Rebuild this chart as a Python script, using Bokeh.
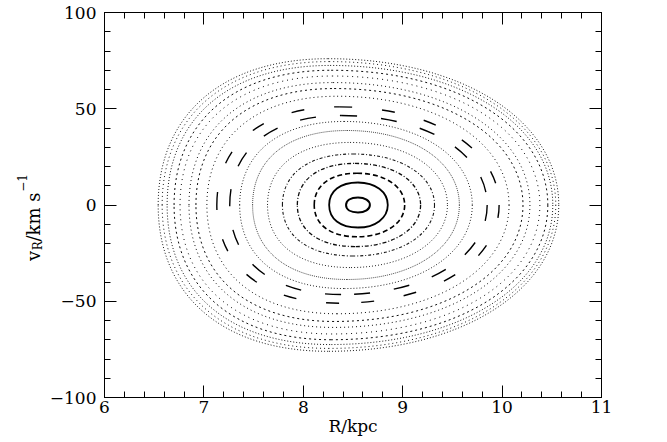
import math
from bokeh.plotting import figure
from bokeh.layouts import row
from bokeh.models import Range1d, LinearAxis, FixedTicker, ColumnDataSource
from bokeh.core.properties import value
from bokeh.embed import file_html
from bokeh.resources import INLINE

# Invariant curves of the surface of section:
# R where each curve crosses vR = 0 (left / right), and its highest point (R, vR).
r_left  = [8.43, 8.26, 8.11, 7.94, 7.79, 7.64, 7.49, 7.36, 7.26, 7.13, 7.03, 6.92, 6.85, 6.76, 6.70, 6.63, 6.58, 6.54]
r_right = [8.67, 8.85, 9.02, 9.18, 9.32, 9.45, 9.57, 9.70, 9.85, 9.97, 10.07, 10.21, 10.28, 10.38, 10.46, 10.51, 10.54, 10.57]
r_peak  = [8.55, 8.55, 8.54, 8.52, 8.50, 8.47, 8.44, 8.41, 8.38, 8.36, 8.34, 8.31, 8.30, 8.29, 8.28, 8.27, 8.26, 8.25]
v_peak  = [3.9, 11.7, 16.5, 21.6, 26.5, 32.5, 38.7, 43.4, 46.5, 51.0, 56.5, 60.5, 63.6, 67.0, 70.0, 72.5, 74.5, 76.0]
# line style of each curve
dashes = ["solid", "solid", "5 3", "4 2 1 2", "3 2 1 2", "1 2", "1 1", "1 2", "16 24", "13 30",
          "1 3", "2 3", "1 3", "1 4", "2 3", "1 2", "1 3", "1 2"]
widths = [2.0, 1.8, 1.6, 1.3, 1.1, 1.0, 1.0, 1.0, 1.4, 1.4, 1.0, 1.0, 1.0, 1.0, 1.0, 1.0, 1.0, 1.0]
alphas = [1.0, 1.0, 1.0, 0.95, 0.9, 0.85, 0.7, 0.85, 1.0, 1.0, 0.95, 0.95, 0.95, 0.95, 0.95, 0.9, 0.9, 0.9]

x_ticks = [6, 7, 8, 9, 10, 11]
y_ticks = [-100, -50, 0, 50, 100]
y_tick_text = {-100: "\u2212100", -50: "\u221250", 0: "0", 50: "50", 100: "100"}
x_minor = [6 + 0.2 * i for i in range(26)]
y_minor = [-100 + 10 * i for i in range(21)]

FONT = "DejaVu Serif"
K_LEFT, K_RIGHT = 0.62, 0.58
H = 440
LAB_W = 46

p = figure(frame_width=497, frame_height=385,
           min_border_left=102 - LAB_W, min_border_right=66, min_border_top=12, min_border_bottom=43,
           x_range=Range1d(6, 11), y_range=Range1d(-100, 100),
           output_backend="svg", toolbar_location=None)
p.title.visible = False
p.xgrid.visible = False
p.ygrid.visible = False
p.outline_line_color = "black"
p.background_fill_color = "white"
p.border_fill_color = "white"

for i in range(len(r_left)):
    rl, rr, rp, vp = r_left[i], r_right[i], r_peak[i], v_peak[i]
    src = ColumnDataSource(dict(
        x0=[rl, rp, rr, rp], y0=[0, vp, 0, -vp],
        x1=[rp, rr, rp, rl], y1=[vp, 0, -vp, 0],
        cx0=[rl, rp + K_RIGHT * (rr - rp), rr, rp - K_LEFT * (rp - rl)],
        cy0=[K_LEFT * vp, vp, -K_RIGHT * vp, -vp],
        cx1=[rp - K_LEFT * (rp - rl), rr, rp + K_RIGHT * (rr - rp), rl],
        cy1=[vp, K_RIGHT * vp, -vp, -K_LEFT * vp],
    ))
    p.bezier(x0="x0", y0="y0", x1="x1", y1="y1", cx0="cx0", cy0="cy0", cx1="cx1", cy1="cy1",
             source=src, line_color="black", line_width=widths[i], line_alpha=alphas[i],
             line_dash=dashes[i])

def style_axis(ax, ticks, minor):
    ax.ticker = FixedTicker(ticks=ticks, minor_ticks=minor)
    ax.major_tick_in = 12
    ax.major_tick_out = 0
    ax.minor_tick_in = 6
    ax.minor_tick_out = 0
    ax.axis_line_color = "black"
    ax.major_tick_line_color = "black"
    ax.minor_tick_line_color = "black"
    ax.major_label_text_font = FONT
    ax.major_label_text_color = "black"
    ax.major_label_text_font_size = "17px"

xb = p.xaxis[0]
style_axis(xb, x_ticks, x_minor)
xb.major_label_standoff = 3
xb.axis_label = "R/kpc"
xb.axis_label_text_font = FONT
xb.axis_label_text_font_size = "17px"
xb.axis_label_text_font_style = "normal"
xb.axis_label_text_color = "black"
xb.axis_label_standoff = 0
yl = p.yaxis[0]
style_axis(yl, y_ticks, y_minor)
yl.major_label_standoff = 8
yl.major_label_overrides = y_tick_text

# mirrored tick marks on the top and right edges (tick marks only, no labels)
def tick_only_axis(positions, length, draw_line):
    ax = LinearAxis(ticker=FixedTicker(ticks=[], minor_ticks=positions))
    ax.minor_tick_in = length
    ax.minor_tick_out = 0
    ax.major_tick_in = 0
    ax.major_tick_out = 0
    ax.major_label_standoff = 0
    ax.axis_label_standoff = 0
    ax.minor_tick_line_color = "black"
    ax.axis_line_color = "black" if draw_line else None
    return ax

p.add_layout(tick_only_axis(x_ticks, 12, True), "above")
p.add_layout(tick_only_axis(x_minor, 6, False), "above")
p.add_layout(tick_only_axis(y_ticks, 12, True), "right")
p.add_layout(tick_only_axis(y_minor, 6, False), "right")

# rotated y-axis title with subscript and superscript, drawn in a narrow side panel
lab = figure(frame_width=LAB_W, frame_height=H, x_range=Range1d(0, LAB_W), y_range=Range1d(0, H),
             x_axis_location=None, y_axis_location=None, min_border=0,
             output_backend="svg", toolbar_location=None)
lab.title.visible = False
lab.xgrid.visible = False
lab.ygrid.visible = False
lab.outline_line_color = None
rot = math.pi / 2
title_parts = ["v", "R", "/km s", "\u22121"]
title_x = [33, 37, 33, 21]
title_y = [191.5, 202.2, 211.0, 260.8]
title_size = ["18px", "12px", "18px", "12px"]
for t, tx, ty, ts in zip(title_parts, title_x, title_y, title_size):
    lab.text(x=[tx], y=[ty], text=[t], angle=rot, text_font=value(FONT), text_font_size=ts,
             text_align="left", text_baseline="alphabetic", text_color="black")

layout = row(lab, p)
open("out.html", "w").write(file_html(layout, INLINE))
